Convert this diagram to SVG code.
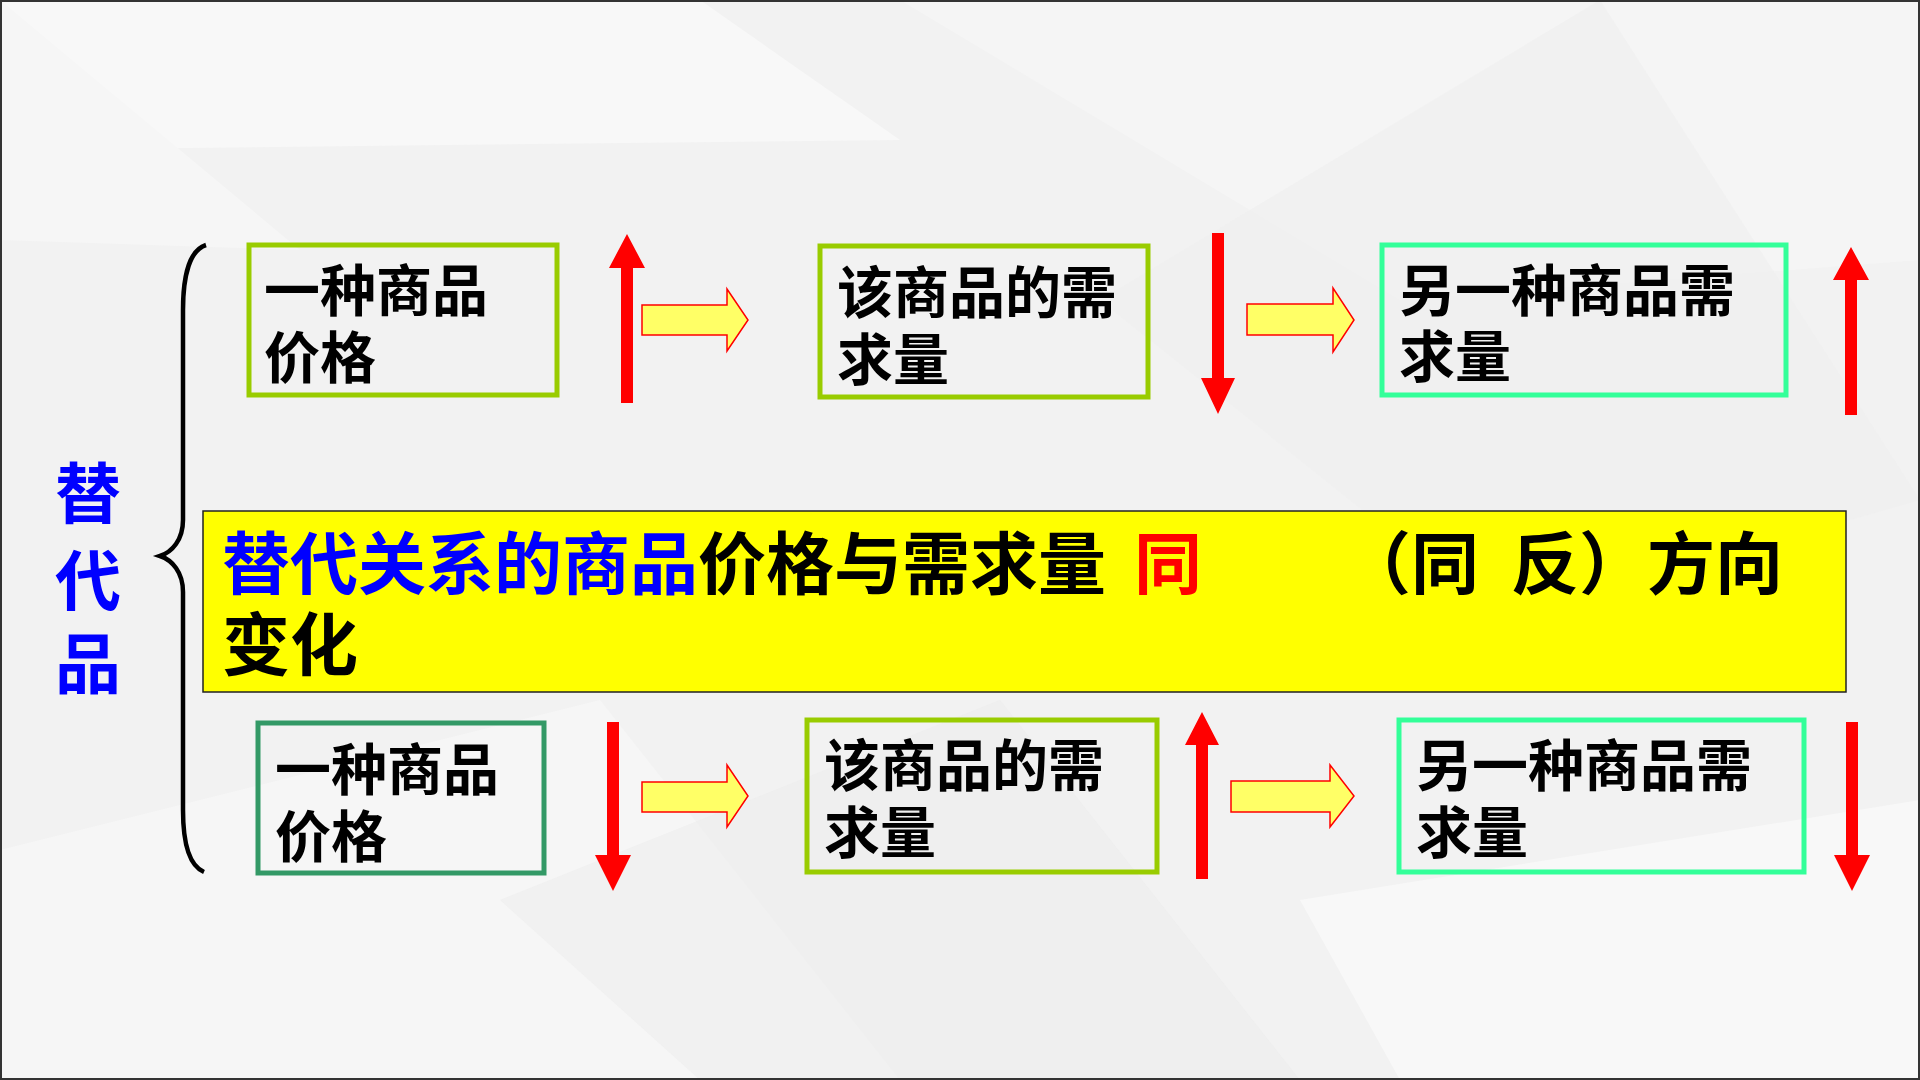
<svg xmlns="http://www.w3.org/2000/svg" width="1920" height="1080" viewBox="0 0 1920 1080">
<style>
.t{font-family:"Noto Sans CJK SC","Noto Sans CJK JP",sans-serif;font-weight:bold;}
.bt{font-size:56px;fill:#000;}
.box{fill:none;stroke-width:5;}
.red{fill:#ff0000;}
.yel{fill:#ffff66;stroke:#ff0000;stroke-width:1.5;}
</style>
<g id="background">
<rect x="0" y="0" width="1920" height="1080" fill="#f2f2f2"/>
<polygon points="0,0 700,0 900,140 0,150" fill="#f8f8f8"/>
<polygon points="0,0 0,240 300,250" fill="#f6f6f6"/>
<polygon points="900,0 1920,0 1920,260 1400,300" fill="#f5f5f5"/>
<polygon points="1100,300 1600,0 1920,500 1500,620" fill="#eeeeee" opacity="0.6"/>
<polygon points="0,850 600,700 900,1080 0,1080" fill="#f6f6f6"/>
<polygon points="500,900 1000,700 1300,1080 700,1080" fill="#ececec" opacity="0.5"/>
<polygon points="1300,900 1920,800 1920,1080 1400,1080" fill="#f8f8f8"/>
<rect x="1" y="1" width="1918" height="1078" fill="none" stroke="#333" stroke-width="2"/>
</g>

<g id="label-substitute">
<path d="M206,245 C190,250 183,275 183,310 L183,520 C183,540 172,552 160,556 C172,560 183,572 183,592 L183,810 C183,845 190,866 204,872" fill="none" stroke="#000" stroke-width="4.5"/>
<text class="t" font-size="66" fill="#0000ff" text-anchor="middle"><tspan x="88" y="518">替</tspan><tspan x="88" y="605">代</tspan><tspan x="88" y="688">品</tspan></text>
</g>

<g id="top-price">
<rect class="box" x="249" y="245" width="308" height="150" stroke="#99cc00"/>
<text class="t bt"><tspan x="264" y="311">一种商品</tspan><tspan x="264" y="378">价格</tspan></text>
</g>
<g id="top-demand">
<rect class="box" x="820" y="246" width="328" height="151" stroke="#99cc00"/>
<text class="t bt"><tspan x="837" y="313">该商品的需</tspan><tspan x="837" y="380">求量</tspan></text>
</g>
<g id="top-other">
<rect class="box" x="1382" y="245" width="404" height="150" stroke="#33ff99"/>
<text class="t bt"><tspan x="1399" y="311">另一种商品需</tspan><tspan x="1399" y="377">求量</tspan></text>
</g>

<g id="summary">
<rect x="203" y="511" width="1643" height="181" fill="#ffff00" stroke="#222" stroke-width="1.5"/>
<text class="t" font-size="68"><tspan x="222" y="589" fill="#0000ff">替代关系的商品</tspan><tspan fill="#000">价格与需求量</tspan><tspan x="1134" fill="#ff0000">同</tspan><tspan x="1343" fill="#000">（同</tspan><tspan x="1511" fill="#000">反）方向</tspan><tspan x="222" y="670" fill="#000">变化</tspan></text>
</g>

<g id="bottom-price">
<rect class="box" x="258" y="723" width="286" height="150" stroke="#339966"/>
<text class="t bt"><tspan x="275" y="790">一种商品</tspan><tspan x="275" y="857">价格</tspan></text>
</g>
<g id="bottom-demand">
<rect class="box" x="807" y="720" width="350" height="152" stroke="#99cc00"/>
<text class="t bt"><tspan x="824" y="786">该商品的需</tspan><tspan x="824" y="853">求量</tspan></text>
</g>
<g id="bottom-other">
<rect class="box" x="1399" y="720" width="405" height="152" stroke="#33ff99"/>
<text class="t bt"><tspan x="1416" y="786">另一种商品需</tspan><tspan x="1416" y="853">求量</tspan></text>
</g>

<g id="connectors">
<path class="red" d="M627,234 L645,268 L633,268 L633,403 L621,403 L621,268 L609,268 Z"/>
<path class="red" d="M1212,233 L1224,233 L1224,378 L1235,378 L1218,414 L1201,378 L1212,378 Z"/>
<path class="red" d="M1851,247 L1869,280 L1857,280 L1857,415 L1845,415 L1845,280 L1833,280 Z"/>
<path class="red" d="M607,722 L619,722 L619,855 L631,855 L613,891 L595,855 L607,855 Z"/>
<path class="red" d="M1202,712 L1219,745 L1208,745 L1208,879 L1196,879 L1196,745 L1185,745 Z"/>
<path class="red" d="M1846,722 L1858,722 L1858,855 L1870,855 L1852,891 L1834,855 L1846,855 Z"/>
<path class="yel" d="M642,305 H727 V289 L748,320 L727,351 V335 H642 Z"/>
<path class="yel" d="M1247,304 H1333 V288 L1354,320 L1333,352 V335 H1247 Z"/>
<path class="yel" d="M642,782 H727 V765 L748,796 L727,827 V812 H642 Z"/>
<path class="yel" d="M1231,781 H1330 V765 L1354,796 L1330,827 V812 H1231 Z"/>
</g>
</svg>
